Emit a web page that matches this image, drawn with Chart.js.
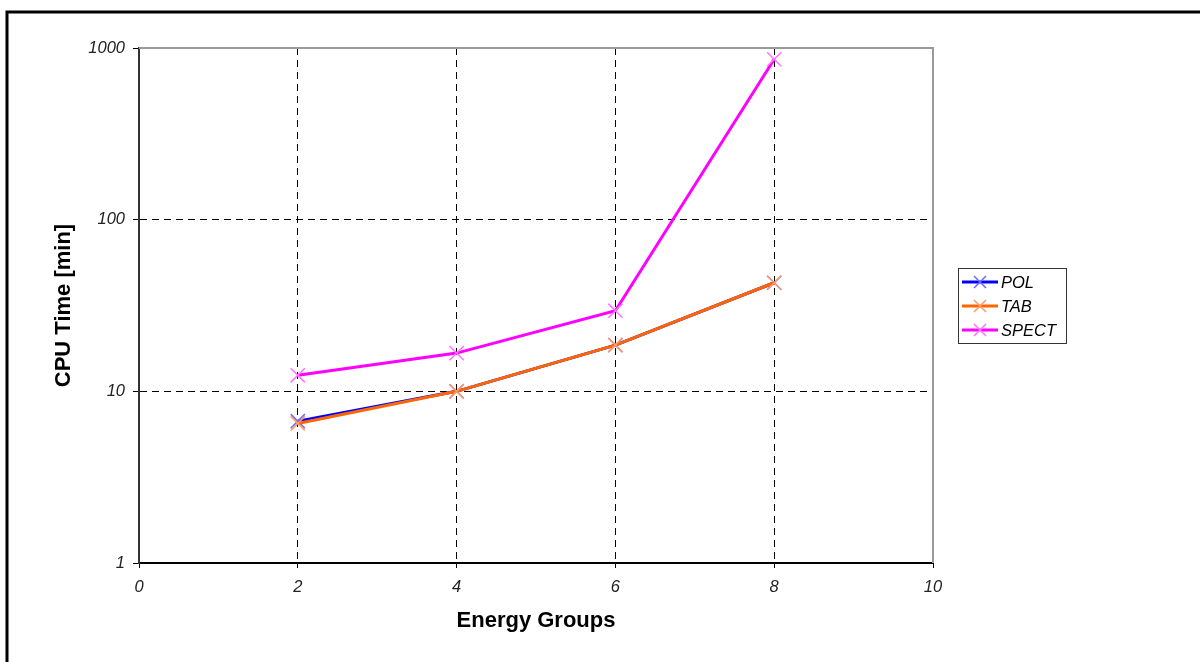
<!DOCTYPE html>
<html>
<head>
<meta charset="utf-8">
<style>
  html, body { margin: 0; padding: 0; background: #fff; }
  #wrap { width: 1200px; height: 662px; position: relative; }
</style>
<script src="https://cdn.jsdelivr.net/npm/chart.js@4/dist/chart.umd.min.js"></script>
</head>
<body>
<div id="wrap"><canvas id="c" width="1200" height="662"></canvas></div>
<script>
// Energy groups on the x axis
const energyGroups = [2, 4, 6, 8];
// CPU time in minutes for each method
const polTimes   = [6.7, 10, 18.6, 42.9];
const tabTimes   = [6.5, 10, 18.6, 42.9];
const spectTimes = [12.4, 16.7, 29.5, 860];
// Axis ticks
const xTicks = [0, 2, 4, 6, 8, 10];
const yTicks = [1, 10, 100, 1000];

const seriesNames = ['POL', 'TAB', 'SPECT'];
const lineColors = ['#0000ff', '#ff6600', '#ff00ff'];
const markColors = ['#6a6aff', '#ff9a66', '#ff73ff'];

const toPoints = vals => energyGroups.map((g, i) => ({ x: g, y: vals[i] }));

const FONT = '"Liberation Sans", Arial, sans-serif';

// Page frame and plot-area border
const framePlugin = {
  id: 'frame',
  beforeDraw(chart) {
    const ctx = chart.ctx;
    ctx.save();
    ctx.fillStyle = '#fff';
    ctx.fillRect(0, 0, chart.width, chart.height);
    ctx.strokeStyle = '#000';
    ctx.lineWidth = 3;
    ctx.beginPath();
    ctx.moveTo(7, chart.height);
    ctx.lineTo(7, 12);
    ctx.lineTo(chart.width, 12);
    ctx.stroke();
    ctx.restore();
  },
  afterDraw(chart) {
    const a = chart.chartArea, ctx = chart.ctx;
    ctx.save();
    ctx.strokeStyle = '#9a9a9a';
    ctx.lineWidth = 2;
    ctx.beginPath();
    ctx.moveTo(a.left, a.top);
    ctx.lineTo(a.right, a.top);
    ctx.lineTo(a.right, a.bottom);
    ctx.stroke();
    ctx.restore();
  }
};

// Boxed legend to the right of the plot
const boxLegend = {
  id: 'boxLegend',
  afterDraw(chart) {
    const ctx = chart.ctx;
    const bx = 958, by = 268, bw = 108, bh = 75;
    ctx.save();
    ctx.strokeStyle = '#333';
    ctx.lineWidth = 1;
    ctx.strokeRect(bx + 0.5, by + 0.5, bw, bh);
    chart.data.datasets.forEach((ds, i) => {
      const y = by + 14 + i * 24;
      ctx.strokeStyle = ds.borderColor;
      ctx.lineWidth = 3;
      ctx.beginPath();
      ctx.moveTo(962, y);
      ctx.lineTo(998, y);
      ctx.stroke();
      ctx.strokeStyle = ds.pointBorderColor;
      ctx.lineWidth = 1.5;
      const r = 6;
      ctx.beginPath();
      ctx.moveTo(980 - r, y - r); ctx.lineTo(980 + r, y + r);
      ctx.moveTo(980 - r, y + r); ctx.lineTo(980 + r, y - r);
      ctx.stroke();
      ctx.fillStyle = '#000';
      ctx.font = 'italic 16.5px ' + FONT;
      ctx.textBaseline = 'middle';
      ctx.fillText(ds.label, 1001, y + 1);
    });
    ctx.restore();
  }
};

const datasets = [polTimes, tabTimes, spectTimes].map((vals, i) => ({
  label: seriesNames[i],
  data: toPoints(vals),
  borderColor: lineColors[i],
  backgroundColor: lineColors[i],
  borderWidth: 3,
  pointStyle: 'crossRot',
  pointRadius: 10,
  pointBorderWidth: 1.5,
  pointBorderColor: markColors[i],
  pointBackgroundColor: markColors[i],
  tension: 0,
  order: 3 - i
}));

new Chart(document.getElementById('c'), {
  type: 'line',
  data: { datasets },
  options: {
    responsive: false,
    animation: false,
    devicePixelRatio: 1,
    layout: { padding: { left: 0, top: 48, right: 267, bottom: 0 } },
    plugins: { legend: { display: false }, tooltip: { enabled: false } },
    scales: {
      x: {
        type: 'linear',
        min: 0, max: 10,
        afterFit(scale) { scale.height = 99; },
        afterBuildTicks(scale) { scale.ticks = xTicks.map(v => ({ value: v })); },
        ticks: {
          color: '#222',
          font: { family: FONT, size: 16.5, style: 'italic' },
          padding: 10,
          maxRotation: 0,
          callback: v => String(v)
        },
        grid: {
          color: ctx => (ctx.tick && (ctx.tick.value === 0 || ctx.tick.value === 10)) ? 'rgba(0,0,0,0)' : '#000',
          lineWidth: 1,
          tickColor: '#000',
          tickLength: 5,
          tickWidth: 1
        },
        border: { display: true, color: '#000', width: 2, dash: [7, 5] },
        title: {
          display: true,
          text: 'Energy Groups',
          color: '#000',
          font: { family: FONT, size: 22, weight: 'bold' },
          padding: { top: 0, bottom: 28 }
        }
      },
      y: {
        type: 'logarithmic',
        min: 1, max: 1000,
        afterFit(scale) { scale.width = 139; },
        afterBuildTicks(scale) { scale.ticks = yTicks.map(v => ({ value: v })); },
        ticks: {
          color: '#222',
          font: { family: FONT, size: 16.5, style: 'italic' },
          padding: 8,
          callback: v => String(v)
        },
        grid: {
          color: ctx => (ctx.tick && (ctx.tick.value === 1 || ctx.tick.value === 1000)) ? 'rgba(0,0,0,0)' : '#000',
          lineWidth: 1,
          tickColor: '#000',
          tickLength: 6,
          tickWidth: 1
        },
        border: { display: true, color: '#333', width: 2, dash: [7, 5] },
        title: {
          display: true,
          text: 'CPU Time [min]',
          color: '#000',
          font: { family: FONT, size: 22, weight: 'bold' },
          padding: { top: 51, bottom: 0 }
        }
      }
    }
  },
  plugins: [framePlugin, boxLegend]
});
</script>
</body>
</html>
